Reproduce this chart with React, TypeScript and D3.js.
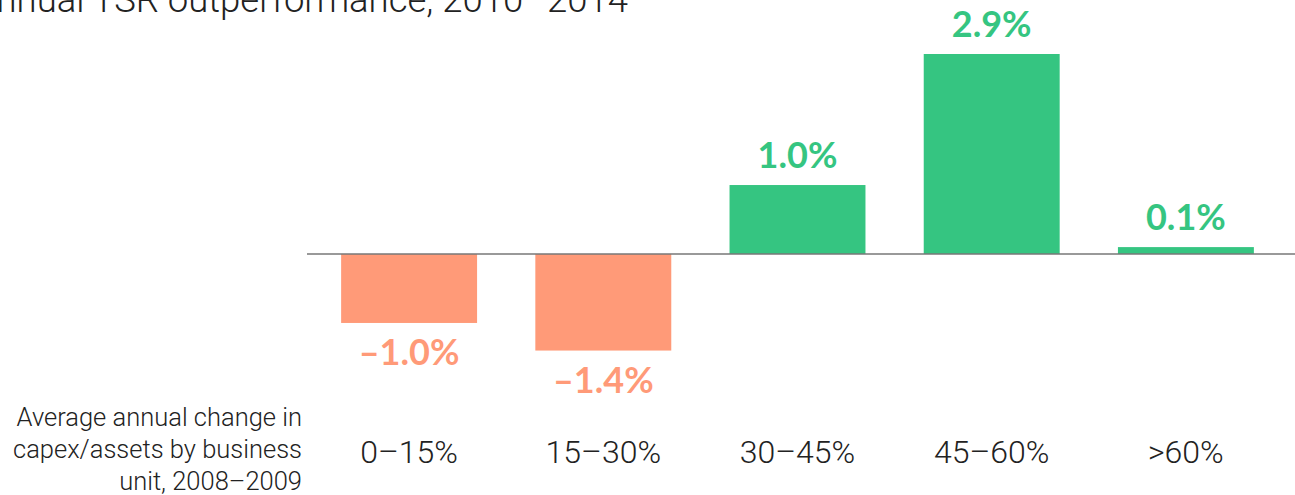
import React from "react";
import * as d3 from "d3";

const categories = ["0–15%", "15–30%", "30–45%", "45–60%", ">60%"];
const values = [-1.0, -1.4, 1.0, 2.9, 0.1];
const valueLabels = ["–1.0%", "–1.4%", "1.0%", "2.9%", "0.1%"];
const titleText = "Annual TSR outperformance, 2010–2014";
const axisLabelLines = ["Average annual change in", "capex/assets by business", "unit, 2008–2009"];

const W = 1295;
const H = 495;
const GREEN = "#35C581";
const ORANGE = "#FF9A78";

export default function App() {
  const x = d3.scaleBand<string>().domain(categories).range([312, 1283]).paddingInner(0.3).paddingOuter(0.15);
  const y = d3.scaleLinear().domain([0, 2.9]).range([254, 54]);
  const y0 = y(0);
  return (
    <svg width={W} height={H} style={{ position: "absolute", left: 0, top: 0 }}>
      <text x={628} y={12} textAnchor="end" fontFamily="Roboto" fontWeight={300} fontSize={36.5} fill="#222">
        {titleText}
      </text>
      {values.map((v, i) => {
        const c = categories[i];
        const x0 = x(c)!;
        const top = Math.min(y(v), y0);
        const h = Math.abs(y(v) - y0);
        const col = v >= 0 ? GREEN : ORANGE;
        const ly = v >= 0 ? y(v) - 17 : y(v) + 42;
        return (
          <g key={c}>
            <rect x={x0} y={top} width={x.bandwidth()} height={h} fill={col} />
            <text x={x0 + x.bandwidth() / 2} y={ly} textAnchor="middle" fontFamily="Lato" fontWeight={700} fontSize={36} fill={col}>
              {valueLabels[i]}
            </text>
            <text x={x0 + x.bandwidth() / 2} y={463} textAnchor="middle" fontFamily="Roboto" fontWeight={300} fontSize={32} fill="#222">
              {c}
            </text>
          </g>
        );
      })}
      <line x1={307} x2={W} y1={y0} y2={y0} stroke="#777" strokeWidth={1.5} />
      {axisLabelLines.map((l, i) => (
        <text key={i} x={302} y={426 + i * 32} textAnchor="end" fontFamily="Roboto" fontWeight={300} fontSize={25.5} fill="#222">
          {l}
        </text>
      ))}
    </svg>
  );
}
